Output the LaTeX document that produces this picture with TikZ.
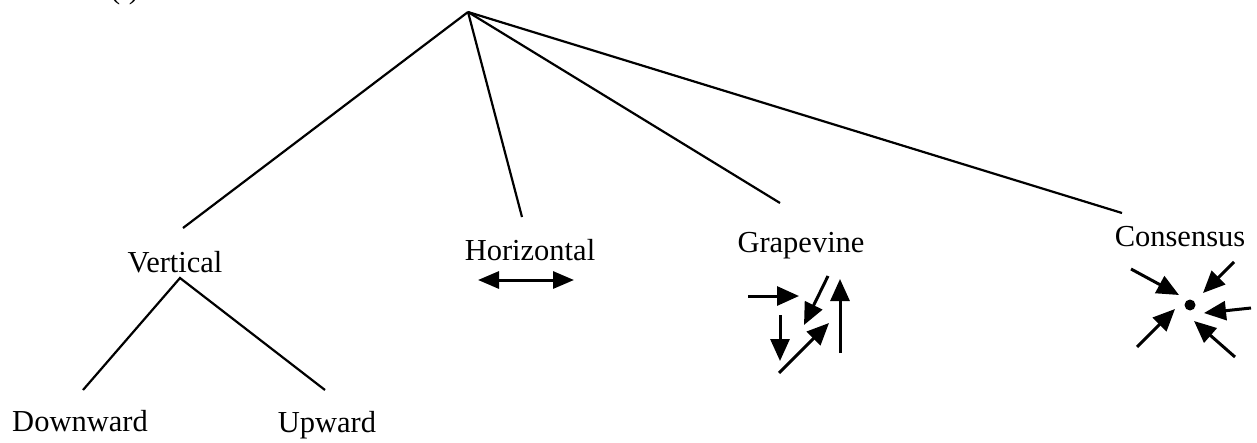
\documentclass[tikz,border=0pt]{standalone}
\usepackage{fontspec}
\setmainfont{Liberation Serif}
\usetikzlibrary{arrows.meta}
\tikzset{
  tree/.style={line width=2.2pt},
  lbl/.style={inner sep=0pt, anchor=base, font=\fontsize{30.5}{36}\selectfont},
  arr/.style={line width=3pt, -{Triangle[length=22pt,width=19pt]}},
  dbl/.style={line width=3pt, {Triangle[length=21pt,width=17pt]}-{Triangle[length=21pt,width=17pt]}}
}
\begin{document}
\begin{tikzpicture}[x=1pt,y=-1pt]
\useasboundingbox (0,0) rectangle (1257,442);
\clip (0,0) rectangle (1257,442);
\fill[white] (0,0) rectangle (1257,442);
% heading (clipped at top, as in the reference)
\node[lbl, anchor=base west] (head) at (110,-1.5) {(i) Formal Communication};
% labels
\node[lbl] (vert) at (175,272.5) {Vertical};
\node[lbl] (hor) at (530,260) {Horizontal};
\node[lbl] (grape) at (801,252) {Grapevine};
\node[lbl] (cons) at (1180,246) {Consensus};
\node[lbl] (down) at (80,431) {Downward};
\node[lbl] (up) at (327,432) {Upward};
% tree
\coordinate (apex) at (468,12);
\coordinate (v1) at (183,228);
\coordinate (h1) at (522,217);
\coordinate (g1) at (780,203);
\coordinate (c1) at (1122,213);
\draw[tree] (apex) -- (v1);
\draw[tree] (apex) -- (h1);
\draw[tree] (apex) -- (g1);
\draw[tree] (apex) -- (c1);
\coordinate (vtop) at (180,278);
\coordinate (d1) at (83,390);
\coordinate (u1) at (325,390);
\draw[tree] (d1) -- (vtop) -- (u1);
% horizontal double arrow
\coordinate (ha) at (478,280);
\coordinate (hb) at (574,280);
\draw[dbl] (ha) -- (hb);
% grapevine arrows
\coordinate (ga1) at (748,296); \coordinate (gb1) at (799,296);
\coordinate (ga2) at (780,315); \coordinate (gb2) at (780,361);
\coordinate (ga3) at (828,276); \coordinate (gb3) at (804,325);
\coordinate (ga4) at (779,373); \coordinate (gb4) at (829,323);
\coordinate (ga5) at (840,353); \coordinate (gb5) at (840,279);
\draw[arr] (ga1) -- (gb1);
\draw[arr] (ga2) -- (gb2);
\draw[arr] (ga3) -- (gb3);
\draw[arr] (ga4) -- (gb4);
\draw[arr] (ga5) -- (gb5);
% consensus
\fill (1190,305) circle (5.5pt) node (dot) {};
\coordinate (ca1) at (1131,269); \coordinate (cb1) at (1179,295);
\coordinate (ca2) at (1234,262); \coordinate (cb2) at (1203,293);
\coordinate (ca3) at (1251,308); \coordinate (cb3) at (1204,313);
\coordinate (ca4) at (1137,347); \coordinate (cb4) at (1175,309);
\coordinate (ca5) at (1235,357); \coordinate (cb5) at (1194,321);
\draw[arr] (ca1) -- (cb1);
\draw[arr] (ca2) -- (cb2);
\draw[arr] (ca3) -- (cb3);
\draw[arr] (ca4) -- (cb4);
\draw[arr] (ca5) -- (cb5);
\end{tikzpicture}
\end{document}
